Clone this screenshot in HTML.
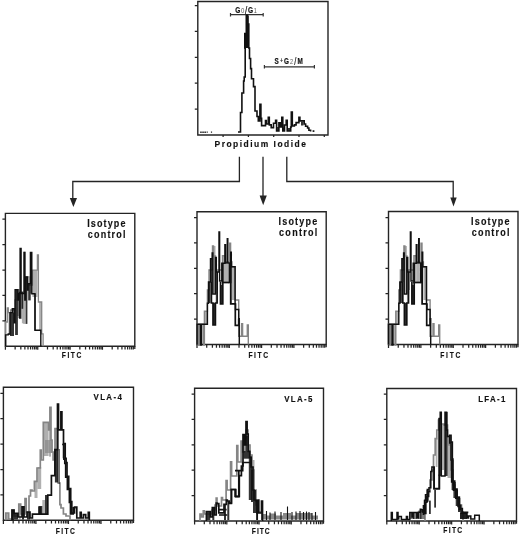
<!DOCTYPE html>
<html><head><meta charset="utf-8"><style>
html,body{margin:0;padding:0;background:#fff;}
svg{display:block;font-family:"Liberation Sans",Arial,sans-serif;}
</style></head><body>
<svg width="520" height="535" viewBox="0 0 520 535">
<rect width="520" height="535" fill="#fff"/>
<path d="M197.8,1.5H328.0V135.0H197.8Z" fill="none" stroke="#242424" stroke-width="1.4"/>
<path d="M194.8,109.1H197.8 M194.8,83.2H197.8 M194.8,57.3H197.8 M194.8,31.4H197.8 M194.8,5.5H197.8 M223.1,135.0v2 M248.4,135.0v2 M273.7,135.0v2 M299.0,135.0v2 M324.3,135.0v2" stroke="#242424" stroke-width="1.25" fill="none"/>
<path d="M5.4,213.4H134.8V346.2H5.4Z" fill="none" stroke="#242424" stroke-width="1.4"/>
<path d="M2.4000000000000004,320.8H5.4 M2.4000000000000004,295.4H5.4 M2.4000000000000004,270.0H5.4 M2.4000000000000004,244.6H5.4 M2.4000000000000004,219.2H5.4 M5.40,346.2v3.6 M15.14,346.2v3.3 M20.83,346.2v3.3 M24.88,346.2v3.3 M28.01,346.2v3.3 M30.57,346.2v3.3 M32.74,346.2v3.3 M34.61,346.2v3.3 M36.27,346.2v3.3 M37.75,346.2v3.6 M47.49,346.2v3.3 M53.18,346.2v3.3 M57.23,346.2v3.3 M60.36,346.2v3.3 M62.92,346.2v3.3 M65.09,346.2v3.3 M66.96,346.2v3.3 M68.62,346.2v3.3 M70.10,346.2v3.6 M79.84,346.2v3.3 M85.53,346.2v3.3 M89.58,346.2v3.3 M92.71,346.2v3.3 M95.27,346.2v3.3 M97.44,346.2v3.3 M99.31,346.2v3.3 M100.97,346.2v3.3 M102.45,346.2v3.6 M112.19,346.2v3.3 M117.88,346.2v3.3 M121.93,346.2v3.3 M125.06,346.2v3.3 M127.62,346.2v3.3 M129.79,346.2v3.3 M131.66,346.2v3.3 M133.32,346.2v3.3 M134.80,346.2v2.8" stroke="#242424" stroke-width="1.25" fill="none"/>
<path d="M197.0,211.7H326.2V344.5H197.0Z" fill="none" stroke="#242424" stroke-width="1.4"/>
<path d="M194.0,319.1H197.0 M194.0,293.7H197.0 M194.0,268.3H197.0 M194.0,242.9H197.0 M194.0,217.5H197.0 M197.00,344.5v3.6 M206.72,344.5v3.3 M212.41,344.5v3.3 M216.45,344.5v3.3 M219.58,344.5v3.3 M222.13,344.5v3.3 M224.30,344.5v3.3 M226.17,344.5v3.3 M227.82,344.5v3.3 M229.30,344.5v3.6 M239.02,344.5v3.3 M244.71,344.5v3.3 M248.75,344.5v3.3 M251.88,344.5v3.3 M254.43,344.5v3.3 M256.60,344.5v3.3 M258.47,344.5v3.3 M260.12,344.5v3.3 M261.60,344.5v3.6 M271.32,344.5v3.3 M277.01,344.5v3.3 M281.05,344.5v3.3 M284.18,344.5v3.3 M286.73,344.5v3.3 M288.90,344.5v3.3 M290.77,344.5v3.3 M292.42,344.5v3.3 M293.90,344.5v3.6 M303.62,344.5v3.3 M309.31,344.5v3.3 M313.35,344.5v3.3 M316.48,344.5v3.3 M319.03,344.5v3.3 M321.20,344.5v3.3 M323.07,344.5v3.3 M324.72,344.5v3.3 M326.20,344.5v2.8" stroke="#242424" stroke-width="1.25" fill="none"/>
<path d="M388.5,211.5H518.0V344.5H388.5Z" fill="none" stroke="#242424" stroke-width="1.4"/>
<path d="M385.5,319.1H388.5 M385.5,293.7H388.5 M385.5,268.3H388.5 M385.5,242.9H388.5 M385.5,217.5H388.5 M388.50,344.5v3.6 M398.25,344.5v3.3 M403.95,344.5v3.3 M407.99,344.5v3.3 M411.13,344.5v3.3 M413.69,344.5v3.3 M415.86,344.5v3.3 M417.74,344.5v3.3 M419.39,344.5v3.3 M420.88,344.5v3.6 M430.62,344.5v3.3 M436.32,344.5v3.3 M440.37,344.5v3.3 M443.50,344.5v3.3 M446.07,344.5v3.3 M448.24,344.5v3.3 M450.11,344.5v3.3 M451.77,344.5v3.3 M453.25,344.5v3.6 M463.00,344.5v3.3 M468.70,344.5v3.3 M472.74,344.5v3.3 M475.88,344.5v3.3 M478.44,344.5v3.3 M480.61,344.5v3.3 M482.49,344.5v3.3 M484.14,344.5v3.3 M485.62,344.5v3.6 M495.37,344.5v3.3 M501.07,344.5v3.3 M505.12,344.5v3.3 M508.25,344.5v3.3 M510.82,344.5v3.3 M512.99,344.5v3.3 M514.86,344.5v3.3 M516.52,344.5v3.3 M518.00,344.5v2.8" stroke="#242424" stroke-width="1.25" fill="none"/>
<path d="M3.4,387.3H133.5V520.3H3.4Z" fill="none" stroke="#242424" stroke-width="1.4"/>
<path d="M0.3999999999999999,494.9H3.4 M0.3999999999999999,469.5H3.4 M0.3999999999999999,444.1H3.4 M0.3999999999999999,418.7H3.4 M0.3999999999999999,393.3H3.4 M3.40,520.3v3.6 M13.19,520.3v3.3 M18.92,520.3v3.3 M22.98,520.3v3.3 M26.13,520.3v3.3 M28.71,520.3v3.3 M30.89,520.3v3.3 M32.77,520.3v3.3 M34.44,520.3v3.3 M35.92,520.3v3.6 M45.72,520.3v3.3 M51.44,520.3v3.3 M55.51,520.3v3.3 M58.66,520.3v3.3 M61.23,520.3v3.3 M63.41,520.3v3.3 M65.30,520.3v3.3 M66.96,520.3v3.3 M68.45,520.3v3.6 M78.24,520.3v3.3 M83.97,520.3v3.3 M88.03,520.3v3.3 M91.18,520.3v3.3 M93.76,520.3v3.3 M95.94,520.3v3.3 M97.82,520.3v3.3 M99.49,520.3v3.3 M100.97,520.3v3.6 M110.77,520.3v3.3 M116.49,520.3v3.3 M120.56,520.3v3.3 M123.71,520.3v3.3 M126.28,520.3v3.3 M128.46,520.3v3.3 M130.35,520.3v3.3 M132.01,520.3v3.3 M133.50,520.3v2.8" stroke="#242424" stroke-width="1.25" fill="none"/>
<path d="M194.6,388.2H323.5V521.0H194.6Z" fill="none" stroke="#242424" stroke-width="1.4"/>
<path d="M191.6,495.6H194.6 M191.6,470.2H194.6 M191.6,444.8H194.6 M191.6,419.4H194.6 M191.6,394.0H194.6 M194.60,521.0v3.6 M204.30,521.0v3.3 M209.98,521.0v3.3 M214.00,521.0v3.3 M217.12,521.0v3.3 M219.68,521.0v3.3 M221.83,521.0v3.3 M223.70,521.0v3.3 M225.35,521.0v3.3 M226.82,521.0v3.6 M236.53,521.0v3.3 M242.20,521.0v3.3 M246.23,521.0v3.3 M249.35,521.0v3.3 M251.90,521.0v3.3 M254.06,521.0v3.3 M255.93,521.0v3.3 M257.58,521.0v3.3 M259.05,521.0v3.6 M268.75,521.0v3.3 M274.43,521.0v3.3 M278.45,521.0v3.3 M281.57,521.0v3.3 M284.13,521.0v3.3 M286.28,521.0v3.3 M288.15,521.0v3.3 M289.80,521.0v3.3 M291.27,521.0v3.6 M300.98,521.0v3.3 M306.65,521.0v3.3 M310.68,521.0v3.3 M313.80,521.0v3.3 M316.35,521.0v3.3 M318.51,521.0v3.3 M320.38,521.0v3.3 M322.03,521.0v3.3 M323.50,521.0v2.8" stroke="#242424" stroke-width="1.25" fill="none"/>
<path d="M386.8,388.5H516.5V521.0H386.8Z" fill="none" stroke="#242424" stroke-width="1.4"/>
<path d="M383.8,495.6H386.8 M383.8,470.2H386.8 M383.8,444.8H386.8 M383.8,419.4H386.8 M383.8,394.0H386.8 M386.80,521.0v3.6 M396.56,521.0v3.3 M402.27,521.0v3.3 M406.32,521.0v3.3 M409.46,521.0v3.3 M412.03,521.0v3.3 M414.20,521.0v3.3 M416.08,521.0v3.3 M417.74,521.0v3.3 M419.23,521.0v3.6 M428.99,521.0v3.3 M434.70,521.0v3.3 M438.75,521.0v3.3 M441.89,521.0v3.3 M444.46,521.0v3.3 M446.63,521.0v3.3 M448.51,521.0v3.3 M450.17,521.0v3.3 M451.65,521.0v3.6 M461.41,521.0v3.3 M467.12,521.0v3.3 M471.17,521.0v3.3 M474.31,521.0v3.3 M476.88,521.0v3.3 M479.05,521.0v3.3 M480.93,521.0v3.3 M482.59,521.0v3.3 M484.07,521.0v3.6 M493.84,521.0v3.3 M499.55,521.0v3.3 M503.60,521.0v3.3 M506.74,521.0v3.3 M509.31,521.0v3.3 M511.48,521.0v3.3 M513.36,521.0v3.3 M515.02,521.0v3.3 M516.50,521.0v2.8" stroke="#242424" stroke-width="1.25" fill="none"/>
<text transform="translate(214.60,146.5) scale(0.88,1)" x="0" y="0" font-size="9.6" font-weight="bold" fill="#111" stroke="#111" stroke-width="0.15" textLength="103.75" lengthAdjust="spacing" >Propidium Iodide</text>
<text transform="translate(235.3,12.8) scale(0.8,1)" x="0" y="0" font-size="8.2" font-weight="bold" fill="#111" stroke="#111" stroke-width="0.2" textLength="27" lengthAdjust="spacing">G<tspan fill="#555" stroke="none" font-weight="normal" font-size="7.5">0</tspan><tspan font-weight="normal" font-size="10" dy="1">/</tspan><tspan dy="-1">G</tspan><tspan fill="#555" stroke="none" font-weight="normal" font-size="7">1</tspan></text>
<path d="M230.5,14.7H263.2M230.5,13v3.4M263.2,13v3.4" stroke="#333" stroke-width="1.2" fill="none"/>
<text transform="translate(274.6,63.9) scale(0.74,1)" x="0" y="0" font-size="8.6" font-weight="bold" fill="#111" stroke="#111" stroke-width="0.2" textLength="38" lengthAdjust="spacing">S<tspan font-weight="normal" font-size="7" dy="-1">+</tspan><tspan dy="1">G</tspan><tspan fill="#555" stroke="none" font-weight="normal" font-size="7.5">2</tspan><tspan font-weight="normal" font-size="10" dy="0.6">/</tspan><tspan dy="-0.6">M</tspan></text>
<path d="M264.4,66.9H314.4M264.4,65v3.6M314.4,65v3.6" stroke="#333" stroke-width="1.2" fill="none"/>
<path d="M239.4,156.8V181.5H72.8V199 M286.8,156.8V181.5H453.2V198 M263,156.8V196" stroke="#242424" stroke-width="1.3" fill="none"/>
<path d="M69.80000000000001,198L77.0,198L73.4,207Z" fill="#242424"/>
<path d="M259.59999999999997,195.5L266.8,195.5L263.2,205.2Z" fill="#242424"/>
<path d="M450.3,197.4L456.7,197.4L453.5,206.5Z" fill="#242424"/>
<text transform="translate(87.20,226.70000000000002) scale(0.9,1)" x="0" y="0" font-size="10" font-weight="bold" fill="#111" stroke="#111" stroke-width="0.15" textLength="42.56" lengthAdjust="spacing" >Isotype</text>
<text transform="translate(87.80,237.8) scale(0.9,1)" x="0" y="0" font-size="10" font-weight="bold" fill="#111" stroke="#111" stroke-width="0.15" textLength="41.89" lengthAdjust="spacing" >control</text>
<text transform="translate(278.50,224.8) scale(0.9,1)" x="0" y="0" font-size="10" font-weight="bold" fill="#111" stroke="#111" stroke-width="0.15" textLength="43.00" lengthAdjust="spacing" >Isotype</text>
<text transform="translate(279.10,235.9) scale(0.9,1)" x="0" y="0" font-size="10" font-weight="bold" fill="#111" stroke="#111" stroke-width="0.15" textLength="42.33" lengthAdjust="spacing" >control</text>
<text transform="translate(471.10,224.60000000000002) scale(0.9,1)" x="0" y="0" font-size="10" font-weight="bold" fill="#111" stroke="#111" stroke-width="0.15" textLength="42.67" lengthAdjust="spacing" >Isotype</text>
<text transform="translate(471.70,235.70000000000002) scale(0.9,1)" x="0" y="0" font-size="10" font-weight="bold" fill="#111" stroke="#111" stroke-width="0.15" textLength="42.00" lengthAdjust="spacing" >control</text>
<text transform="translate(61.80,358.40000000000003) scale(0.8,1)" x="0" y="0" font-size="8.4" font-weight="bold" fill="#111" stroke="#111" stroke-width="0.15" textLength="24.38" lengthAdjust="spacing" >FITC</text>
<text transform="translate(248.40,357.8) scale(0.8,1)" x="0" y="0" font-size="8.4" font-weight="bold" fill="#111" stroke="#111" stroke-width="0.15" textLength="24.75" lengthAdjust="spacing" >FITC</text>
<text transform="translate(440.30,357.6) scale(0.8,1)" x="0" y="0" font-size="8.4" font-weight="bold" fill="#111" stroke="#111" stroke-width="0.15" textLength="25.00" lengthAdjust="spacing" >FITC</text>
<text transform="translate(55.70,534.1999999999999) scale(0.8,1)" x="0" y="0" font-size="8.4" font-weight="bold" fill="#111" stroke="#111" stroke-width="0.15" textLength="24.00" lengthAdjust="spacing" >FITC</text>
<text transform="translate(251.80,533.6999999999999) scale(0.8,1)" x="0" y="0" font-size="8.4" font-weight="bold" fill="#111" stroke="#111" stroke-width="0.15" textLength="22.37" lengthAdjust="spacing" >FITC</text>
<text transform="translate(443.20,532.5) scale(0.8,1)" x="0" y="0" font-size="8.4" font-weight="bold" fill="#111" stroke="#111" stroke-width="0.15" textLength="23.75" lengthAdjust="spacing" >FITC</text>
<text transform="translate(93.50,400.0) scale(0.8,1)" x="0" y="0" font-size="9.9" font-weight="bold" fill="#111" stroke="#111" stroke-width="0.15" textLength="35.38" lengthAdjust="spacing" >VLA-4</text>
<text transform="translate(284.30,401.8) scale(0.8,1)" x="0" y="0" font-size="9.9" font-weight="bold" fill="#111" stroke="#111" stroke-width="0.15" textLength="35.00" lengthAdjust="spacing" >VLA-5</text>
<text transform="translate(478.20,402.1) scale(0.8,1)" x="0" y="0" font-size="9.9" font-weight="bold" fill="#111" stroke="#111" stroke-width="0.15" textLength="34.00" lengthAdjust="spacing" >LFA-1</text>
<path d="M238,132 L240.5,132 L240.5,112.5 L241.9,112.5 L241.9,93 L243.6,93 L243.6,81 L244.2,81 L244.2,77 L245.2,77 L245.2,48 L244.8,48 L244.8,33.6 L246.3,33.6 L246.3,15.4 L247.3,15.4 L247.3,24 L248.8,24 L248.8,48 L249.5,48 L249.5,58.5 L250.6,58.5 L250.6,68.6 L251.5,68.6 L251.5,78.7 L253.5,78.7 L253.5,86.6 L255,86.6 L255,111 L257,111 L257,116.5 L258.3,116.5 L258.3,121 L259.9,121 L259.9,104.4 L260.9,104.4 L260.9,118.2 L261.6,118.2 L261.6,125.6 L265.5,125.6 L265.5,120.5 L266.3,120.5 L266.3,124 L268.3,124 L268.3,117.2 L269.3,117.2 L269.3,124.9 L271.2,124.9 L271.2,127.6 L273.5,127.6 L273.5,123.2 L275.6,123.2 L275.6,120.2 L276.6,120.2 L276.6,131 L278.9,131 L278.9,122.9 L280.5,122.9 L280.5,127 L281.8,127 L281.8,117.2 L282.8,117.2 L282.8,131 L284.5,131 L284.5,125 L286.2,125 L286.2,120.2 L287.2,120.2 L287.2,131 L290.7,131 L290.7,127 L291.3,127 L291.3,112.1 L292.3,112.1 L292.3,126 L294.4,126 L294.4,124.9 L296.1,124.9 L296.1,122.6 L298.9,122.6 L298.9,117.2 L299.9,117.2 L299.9,120.9 L304.2,120.9 L304.2,124 L305.6,124 L305.6,126.3 L307.6,126.3 L307.6,128 L308.9,128 L308.9,130.3 L310.6,130.3 L310.6,131.5" fill="none" stroke="#111" stroke-width="1.6"/>
<rect x="244.8" y="33.6" width="4" height="14.4" fill="#111"/>
<rect x="246.3" y="15.4" width="2.5" height="20" fill="#111"/>
<path d="M277,127h2v4h-2z M283,127.5h1.5v3.5h-1.5z M288,128h2.5v3h-2.5z M301,121.5h2.5v4h-2.5z" fill="#111" fill-opacity="0.85"/>
<path d="M200.2,131.4h1.5v1.5h-1.5z M202.3,131.4h1.5v1.5h-1.5z M204.4,131.4h1.5v1.5h-1.5z M206.6,131.6h1.2v1.2h-1.2z M210.9,131.6h1.2v1.2h-1.2z" fill="#222"/>
<rect x="312.6" y="130.2" width="1.8" height="1.8" fill="#222"/>
<rect x="8.40" y="312.6" width="2.20" height="22.40" fill="#858585" fill-opacity="0.65"/>
<rect x="16.80" y="289.6" width="2.20" height="26.40" fill="#858585" fill-opacity="0.65"/>
<rect x="23.20" y="292" width="2.50" height="31.90" fill="#858585" fill-opacity="0.65"/>
<rect x="32.40" y="270.2" width="5.10" height="26.80" fill="#858585" fill-opacity="0.65"/>
<rect x="39.10" y="302" width="2.60" height="28.00" fill="#858585" fill-opacity="0.65"/>
<rect x="21.90" y="293" width="1.60" height="30.30" fill="#858585" fill-opacity="0.65"/>
<path d="M5.60,346.20 L5.60,322.00 L7.30,322.00 L7.30,308.00 L8.30,308.00 L8.30,312.60 L10.60,312.60 L10.60,310.00 L15.00,310.00 L15.00,300.00 L16.80,300.00 L16.80,289.60 L19.00,289.60 L19.00,292.00 L24.00,292.00 L24.00,252.50 L25.00,252.50 L25.00,276.90 L29.00,276.90 L29.00,285.00 L32.40,285.00 L32.40,270.20 L37.40,270.20 L37.40,255.00 L38.40,255.00 L38.40,302.00 L41.70,302.00 L41.70,333.90 L43.10,333.90 L43.10,346.20" fill="none" stroke="#858585" stroke-width="1.3" stroke-linejoin="miter"/>
<path d="M5.60,346.20 L5.60,334.90 L8.20,334.90 L8.20,334.00 L10.00,334.00 L10.00,312.60 L12.30,312.60 L12.30,308.70 L14.00,308.70 L14.00,322.70 L15.10,322.70 L15.10,289.60 L17.90,289.60 L17.90,300.00 L18.50,300.00 L18.50,293.50 L20.10,293.50 L20.10,248.40 L21.10,248.40 L21.10,293.50 L24.10,293.50 L24.10,252.50 L24.80,252.50 L24.80,300.00 L25.70,300.00 L25.70,276.90 L27.40,276.90 L27.40,290.00 L28.20,290.00 L28.20,283.60 L30.40,283.60 L30.40,252.50 L31.80,252.50 L31.80,293.70 L35.00,293.70 L35.00,330.30 L40.80,330.30 L40.80,346.20" fill="none" stroke="#111" stroke-width="1.4" stroke-linejoin="miter"/>
<path d="M35,293.7V330.6" stroke="#111" stroke-width="1.2"/>
<rect x="10.00" y="312.6" width="4.00" height="23.40" fill="#111" fill-opacity="0.85"/>
<rect x="15.10" y="289.6" width="2.80" height="45.40" fill="#111" fill-opacity="0.85"/>
<rect x="18.50" y="293" width="2.20" height="25.20" fill="#111" fill-opacity="0.85"/>
<rect x="19.00" y="292" width="2.50" height="26.80" fill="#111" fill-opacity="0.85"/>
<rect x="21.50" y="292" width="1.70" height="16.80" fill="#111" fill-opacity="0.85"/>
<rect x="25.70" y="276.9" width="1.70" height="47.00" fill="#111" fill-opacity="0.85"/>
<rect x="28.20" y="283.6" width="2.50" height="16.80" fill="#111" fill-opacity="0.85"/>
<rect x="30.40" y="252.5" width="1.20" height="41.20" fill="#111" fill-opacity="0.85"/>
<rect x="204.00" y="311" width="3.40" height="13.00" fill="#858585" fill-opacity="0.65"/>
<rect x="213.00" y="246" width="2.50" height="47.00" fill="#858585" fill-opacity="0.65"/>
<rect x="222.50" y="256" width="2.50" height="27.00" fill="#858585" fill-opacity="0.65"/>
<rect x="225.00" y="264" width="3.50" height="18.00" fill="#858585" fill-opacity="0.65"/>
<rect x="232.00" y="267" width="3.00" height="33.00" fill="#858585" fill-opacity="0.65"/>
<rect x="215.50" y="293" width="1.50" height="10.00" fill="#858585" fill-opacity="0.65"/>
<path d="M197.10,344.50 L197.10,324.30 L198.50,324.30 L198.50,345.00 L199.30,345.00 L199.30,324.30 L203.60,324.30 L203.60,345.00 L204.40,345.00 L204.40,311.20 L207.40,311.20 L207.40,290.00 L209.00,290.00 L209.00,270.00 L212.50,270.00 L212.50,246.00 L213.50,246.00 L213.50,256.00 L215.50,256.00 L215.50,293.00 L217.00,293.00 L217.00,270.00 L222.50,270.00 L222.50,255.80 L225.00,255.80 L225.00,262.00 L229.60,262.00 L229.60,243.10 L230.60,243.10 L230.60,262.00 L232.00,262.00 L232.00,266.80 L235.00,266.80 L235.00,300.00 L238.70,300.00 L238.70,336.30 L241.60,336.30 L241.60,323.70 L242.60,323.70 L242.60,336.30 L247.30,336.30 L247.30,324.90 L248.30,324.90 L248.30,344.50" fill="none" stroke="#858585" stroke-width="1.4" stroke-linejoin="miter"/>
<path d="M197.10,344.50 L197.10,324.30 L200.60,324.30 L200.60,345.00 L201.60,345.00 L201.60,324.30 L207.40,324.30 L207.40,303.20 L208.50,303.20 L208.50,282.00 L210.50,282.00 L210.50,258.70 L212.20,258.70 L212.20,252.90 L212.80,252.90 L212.80,294.00 L215.40,294.00 L215.40,257.50 L216.30,257.50 L216.30,272.00 L219.00,272.00 L219.00,232.00 L219.60,232.00 L219.60,281.00 L221.80,281.00 L221.80,263.30 L224.90,263.30 L224.90,244.80 L225.50,244.80 L225.50,263.00 L227.30,263.00 L227.30,238.70 L227.80,238.70 L227.80,263.00 L229.30,263.00 L229.30,282.50 L230.70,282.50 L230.70,252.30 L231.30,252.30 L231.30,266.80 L235.10,266.80 L235.10,303.80 L235.50,303.80 L235.50,309.50 L238.70,309.50 L238.70,318.60 L239.30,318.60 L239.30,344.50" fill="none" stroke="#111" stroke-width="1.45" stroke-linejoin="miter"/>
<rect x="208.20" y="282" width="2.30" height="21.00" fill="#111" fill-opacity="0.85"/>
<rect x="213.00" y="303" width="2.40" height="22.00" fill="#111" fill-opacity="0.85"/>
<rect x="210.50" y="258.7" width="2.00" height="23.30" fill="#111" fill-opacity="0.85"/>
<rect x="217.00" y="272" width="1.00" height="18.00" fill="#111" fill-opacity="0.85"/>
<rect x="220.50" y="285" width="2.30" height="19.00" fill="#111" fill-opacity="0.85"/>
<rect x="230.70" y="252" width="0.80" height="52.00" fill="#111" fill-opacity="0.85"/>
<path d="M211.4,282V303H213V325H215.4V303H217.1V272" transform="translate(0,0)" fill="none" stroke="#111" stroke-width="1.7"/>
<path d="M221.8,282.5H229.3" transform="translate(0,0)" fill="none" stroke="#111" stroke-width="1.7"/>
<path d="M235.3,303.8V325.4H238.7V318.6" transform="translate(0,0)" fill="none" stroke="#111" stroke-width="1.7"/>
<path d="M220.5,282V303.8H222.8V263" transform="translate(0,0)" fill="none" stroke="#111" stroke-width="1.7"/>
<path d="M230.7,266V303.8H235.3" transform="translate(0,0)" fill="none" stroke="#111" stroke-width="1.7"/>
<rect x="395.40" y="311" width="3.40" height="13.00" fill="#858585" fill-opacity="0.65"/>
<rect x="404.40" y="246" width="2.50" height="47.00" fill="#858585" fill-opacity="0.65"/>
<rect x="413.90" y="256" width="2.50" height="27.00" fill="#858585" fill-opacity="0.65"/>
<rect x="416.40" y="264" width="3.50" height="18.00" fill="#858585" fill-opacity="0.65"/>
<rect x="423.40" y="267" width="3.00" height="33.00" fill="#858585" fill-opacity="0.65"/>
<rect x="406.90" y="293" width="1.50" height="10.00" fill="#858585" fill-opacity="0.65"/>
<path d="M388.50,344.50 L388.50,324.30 L389.90,324.30 L389.90,345.00 L390.70,345.00 L390.70,324.30 L395.00,324.30 L395.00,345.00 L395.80,345.00 L395.80,311.20 L398.80,311.20 L398.80,290.00 L400.40,290.00 L400.40,270.00 L403.90,270.00 L403.90,246.00 L404.90,246.00 L404.90,256.00 L406.90,256.00 L406.90,293.00 L408.40,293.00 L408.40,270.00 L413.90,270.00 L413.90,255.80 L416.40,255.80 L416.40,262.00 L421.00,262.00 L421.00,243.10 L422.00,243.10 L422.00,262.00 L423.40,262.00 L423.40,266.80 L426.40,266.80 L426.40,300.00 L430.10,300.00 L430.10,336.30 L433.00,336.30 L433.00,323.70 L434.00,323.70 L434.00,336.30 L438.70,336.30 L438.70,324.90 L439.70,324.90 L439.70,344.50" fill="none" stroke="#858585" stroke-width="1.4" stroke-linejoin="miter"/>
<path d="M388.50,344.50 L388.50,324.30 L392.00,324.30 L392.00,345.00 L393.00,345.00 L393.00,324.30 L398.80,324.30 L398.80,303.20 L399.90,303.20 L399.90,282.00 L401.90,282.00 L401.90,258.70 L403.60,258.70 L403.60,252.90 L404.20,252.90 L404.20,294.00 L406.80,294.00 L406.80,257.50 L407.70,257.50 L407.70,272.00 L410.40,272.00 L410.40,232.00 L411.00,232.00 L411.00,281.00 L413.20,281.00 L413.20,263.30 L416.30,263.30 L416.30,244.80 L416.90,244.80 L416.90,263.00 L418.70,263.00 L418.70,238.70 L419.20,238.70 L419.20,263.00 L420.70,263.00 L420.70,282.50 L422.10,282.50 L422.10,252.30 L422.70,252.30 L422.70,266.80 L426.50,266.80 L426.50,303.80 L426.90,303.80 L426.90,309.50 L430.10,309.50 L430.10,318.60 L430.70,318.60 L430.70,344.50" fill="none" stroke="#111" stroke-width="1.45" stroke-linejoin="miter"/>
<rect x="399.60" y="282" width="2.30" height="21.00" fill="#111" fill-opacity="0.85"/>
<rect x="404.40" y="303" width="2.40" height="22.00" fill="#111" fill-opacity="0.85"/>
<rect x="401.90" y="258.7" width="2.00" height="23.30" fill="#111" fill-opacity="0.85"/>
<rect x="408.40" y="272" width="1.00" height="18.00" fill="#111" fill-opacity="0.85"/>
<rect x="411.90" y="285" width="2.30" height="19.00" fill="#111" fill-opacity="0.85"/>
<rect x="422.10" y="252" width="0.80" height="52.00" fill="#111" fill-opacity="0.85"/>
<path d="M211.4,282V303H213V325H215.4V303H217.1V272" transform="translate(191.4,0)" fill="none" stroke="#111" stroke-width="1.7"/>
<path d="M221.8,282.5H229.3" transform="translate(191.4,0)" fill="none" stroke="#111" stroke-width="1.7"/>
<path d="M235.3,303.8V325.4H238.7V318.6" transform="translate(191.4,0)" fill="none" stroke="#111" stroke-width="1.7"/>
<path d="M220.5,282V303.8H222.8V263" transform="translate(191.4,0)" fill="none" stroke="#111" stroke-width="1.7"/>
<path d="M230.7,266V303.8H235.3" transform="translate(191.4,0)" fill="none" stroke="#111" stroke-width="1.7"/>
<rect x="5.80" y="513" width="2.90" height="7.00" fill="#858585" fill-opacity="0.65"/>
<rect x="18.80" y="504" width="1.90" height="15.50" fill="#858585" fill-opacity="0.65"/>
<rect x="42.30" y="500" width="2.70" height="14.00" fill="#858585" fill-opacity="0.65"/>
<rect x="34.50" y="482" width="3.00" height="16.00" fill="#858585" fill-opacity="0.65"/>
<rect x="37.50" y="467" width="3.70" height="22.00" fill="#858585" fill-opacity="0.65"/>
<rect x="43.30" y="422" width="5.30" height="34.00" fill="#858585" fill-opacity="0.65"/>
<rect x="45.00" y="440" width="7.50" height="13.00" fill="#858585" fill-opacity="0.65"/>
<rect x="49.00" y="407" width="2.00" height="49.60" fill="#858585" fill-opacity="0.65"/>
<rect x="54.90" y="429" width="3.40" height="20.70" fill="#858585" fill-opacity="0.65"/>
<path d="M5.80,520.30 L5.80,513.00 L8.70,513.00 L8.70,519.00 L12.00,519.00 L12.00,510.00 L14.00,510.00 L14.00,516.00 L18.80,516.00 L18.80,504.00 L20.70,504.00 L20.70,514.00 L25.00,514.00 L25.00,498.60 L26.20,498.60 L26.20,512.00 L29.00,512.00 L29.00,496.00 L30.50,496.00 L30.50,490.00 L32.00,490.00 L32.00,491.00 L34.40,491.00 L34.40,481.40 L37.00,481.40 L37.00,468.00 L38.30,468.00 L38.30,468.00 L40.30,468.00 L40.30,450.20 L41.20,450.20 L41.20,460.00 L43.30,460.00 L43.30,422.40 L48.60,422.40 L48.60,430.00 L50.00,430.00 L50.00,407.30 L51.00,407.30 L51.00,440.00 L52.00,440.00 L52.00,452.00 L53.10,452.00 L53.10,460.00 L55.00,460.00 L55.00,428.70 L58.00,428.70 L58.00,483.00 L59.90,483.00 L59.90,504.60 L61.00,504.60 L61.00,508.00 L63.40,508.00 L63.40,514.00 L66.00,514.00 L66.00,516.00 L70.00,516.00 L70.00,520.30" fill="none" stroke="#858585" stroke-width="1.7" stroke-linejoin="miter"/>
<path d="M12.00,520.30 L12.00,510.00 L14.00,510.00 L14.00,513.40 L18.00,513.40 L18.00,517.00 L22.00,517.00 L22.00,506.90 L24.00,506.90 L24.00,517.00 L27.00,517.00 L27.00,512.00 L30.00,512.00 L30.00,518.00 L32.40,518.00 L32.40,514.10 L47.80,514.10 L47.80,495.10 L51.40,495.10 L51.40,475.60 L54.90,475.60 L54.90,449.70 L57.50,449.70 L57.50,404.00 L58.50,404.00 L58.50,429.90 L60.90,429.90 L60.90,411.80 L61.90,411.80 L61.90,429.90 L63.50,429.90 L63.50,443.70 L65.20,443.70 L65.20,458.30 L66.10,458.30 L66.10,462.70 L67.00,462.70 L67.00,476.40 L68.70,476.40 L68.70,488.60 L70.70,488.60 L70.70,501.50 L71.80,501.50 L71.80,513.00 L74.50,513.00 L74.50,507.00 L76.80,507.00 L76.80,518.00 L80.20,518.00 L80.20,512.30 L81.20,512.30 L81.20,518.00 L83.40,518.00 L83.40,514.60 L85.70,514.60 L85.70,518.00 L88.30,518.00 L88.30,512.30 L89.30,512.30 L89.30,520.30" fill="none" stroke="#111" stroke-width="1.7" stroke-linejoin="miter"/>
<rect x="12.00" y="510" width="2.00" height="10.00" fill="#111" fill-opacity="0.85"/>
<rect x="14.00" y="513" width="4.00" height="6.50" fill="#111" fill-opacity="0.85"/>
<rect x="22.00" y="506" width="2.00" height="13.50" fill="#111" fill-opacity="0.85"/>
<rect x="27.00" y="512" width="3.00" height="7.50" fill="#111" fill-opacity="0.85"/>
<rect x="38.50" y="506" width="3.80" height="8.00" fill="#111" fill-opacity="0.85"/>
<rect x="45.00" y="495" width="3.00" height="19.00" fill="#111" fill-opacity="0.85"/>
<rect x="54.90" y="449.7" width="3.10" height="32.80" fill="#111" fill-opacity="0.85"/>
<rect x="58.70" y="449" width="1.00" height="35.00" fill="#111" fill-opacity="0.85"/>
<rect x="62.70" y="443.7" width="1.70" height="14.60" fill="#111" fill-opacity="0.85"/>
<rect x="38.20" y="506.6" width="3.00" height="7.40" fill="#111" fill-opacity="0.85"/>
<path d="M62.20,444.50 L63.90,444.50 L63.90,459.10 L64.80,459.10 L64.80,463.50 L65.70,463.50 L65.70,477.20 L67.40,477.20 L67.40,489.40 L69.40,489.40 L69.40,502.30 L70.50,502.30 L70.50,513.80 L73.20,513.80 L73.20,507.80 L75.50,507.80" fill="none" stroke="#111" stroke-width="1.7"/>
<rect x="252.00" y="460" width="2.50" height="40.00" fill="#858585" fill-opacity="0.65"/>
<path d="M200.00,521.00 L200.00,514.00 L201.50,514.00 L201.50,517.00 L203.30,517.00 L203.30,510.80 L204.30,510.80 L204.30,514.00 L212.00,514.00 L212.00,510.00 L215.00,510.00 L215.00,505.00 L216.20,505.00 L216.20,498.20 L217.00,498.20 L217.00,506.00 L221.50,506.00 L221.50,497.50 L222.50,497.50 L222.50,500.00 L226.10,500.00 L226.10,480.60 L227.10,480.60 L227.10,490.00 L230.60,490.00 L230.60,461.80 L231.60,461.80 L231.60,476.00 L236.80,476.00 L236.80,445.60 L237.80,445.60 L237.80,462.00 L241.10,462.00 L241.10,441.00 L242.10,441.00 L242.10,452.00 L244.00,452.00 L244.00,438.00 L246.00,438.00 L246.00,430.00 L248.00,430.00 L248.00,445.00 L250.00,445.00 L250.00,455.00 L252.00,455.00 L252.00,470.00 L254.00,470.00 L254.00,490.00 L256.00,490.00 L256.00,505.00 L258.00,505.00 L258.00,512.00 L262.00,512.00 L262.00,521.00" fill="none" stroke="#858585" stroke-width="1.7" stroke-linejoin="miter"/>
<path d="M206.40,521.00 L206.40,511.50 L210.30,511.50 L210.30,517.00 L212.30,517.00 L212.30,507.60 L214.30,507.60 L214.30,515.00 L216.20,515.00 L216.20,503.00 L217.00,503.00 L217.00,503.60 L218.80,503.60 L218.80,512.80 L224.00,512.80 L224.00,504.30 L226.30,504.30 L226.30,500.00 L227.30,500.00 L227.30,501.00 L229.30,501.00 L229.30,503.40 L231.40,503.40 L231.40,489.50 L235.10,489.50 L235.10,496.40 L239.30,496.40 L239.30,475.70 L241.40,475.70 L241.40,466.00 L243.00,466.00 L243.00,434.60 L244.60,434.60 L244.60,445.00 L246.00,445.00 L246.00,421.70 L247.10,421.70 L247.10,434.00 L248.20,434.00 L248.20,451.40 L249.70,451.40 L249.70,457.00 L251.00,457.00 L251.00,467.00 L253.00,467.00 L253.00,490.00 L254.00,490.00 L254.00,500.00 L256.00,500.00 L256.00,500.60 L257.00,500.60 L257.00,513.00 L258.00,513.00 L258.00,500.00 L258.80,500.00 L258.80,513.00 L261.50,513.00 L261.50,501.00 L262.50,501.00 L262.50,521.00" fill="none" stroke="#111" stroke-width="1.7" stroke-linejoin="miter"/>
<rect x="206.40" y="511.5" width="3.90" height="8.50" fill="#111" fill-opacity="0.85"/>
<rect x="212.30" y="507.6" width="2.00" height="12.40" fill="#111" fill-opacity="0.85"/>
<rect x="224.00" y="504" width="2.00" height="16.00" fill="#111" fill-opacity="0.85"/>
<rect x="227.30" y="501" width="2.00" height="19.00" fill="#111" fill-opacity="0.85"/>
<rect x="245.30" y="436" width="2.50" height="15.00" fill="#111" fill-opacity="0.85"/>
<rect x="243.40" y="451" width="6.90" height="7.70" fill="#111" fill-opacity="0.85"/>
<rect x="248.80" y="457" width="3.20" height="43.00" fill="#111" fill-opacity="0.85"/>
<rect x="251.00" y="470" width="2.00" height="32.00" fill="#111" fill-opacity="0.85"/>
<rect x="253.00" y="490" width="3.00" height="23.00" fill="#111" fill-opacity="0.85"/>
<rect x="256.00" y="500" width="2.00" height="20.00" fill="#111" fill-opacity="0.85"/>
<path d="M262,514h4v5.5h-4z M266,515.5h52v4h-52z M270,513.5h6v2h-6z M283,513h8v2.5h-8z M296,513h16v2.5h-16z" fill="#111" fill-opacity="0.5"/>
<path d="M257.5,500V520 M262,501V520 M266.5,511V520 M270,512.5V520 M275,511.5V520 M281,512V520 M287.5,506.5V520 M292,512V520 M296,511.5V520 M300,511V520 M303.5,512V520 M306.5,511.5V520 M309,512V520 M312,513V520 M315.5,512V520" stroke="#111" stroke-width="1.1"/>
<path d="M228,503H231.4V489.5H235.8V496.7H238.8V470.6H242.7V462.5H250 M219,509.7H226.6 M219,515H227.3 M235,470.6H238.8" fill="none" stroke="#111" stroke-width="1.7"/>
<rect x="441.80" y="424" width="2.20" height="46.00" fill="#858585" fill-opacity="0.65"/>
<rect x="435.70" y="438.6" width="1.80" height="28.40" fill="#858585" fill-opacity="0.65"/>
<rect x="447.50" y="436.4" width="4.00" height="41.60" fill="#858585" fill-opacity="0.65"/>
<path d="M425.00,521.00 L425.00,500.00 L428.00,500.00 L428.00,492.00 L430.00,492.00 L430.00,480.00 L432.00,480.00 L432.00,470.00 L433.50,470.00 L433.50,455.00 L435.20,455.00 L435.20,438.60 L436.80,438.60 L436.80,430.00 L438.50,430.00 L438.50,420.00 L441.00,420.00 L441.00,424.00 L444.00,424.00 L444.00,425.00 L447.50,425.00 L447.50,436.40 L449.10,436.40 L449.10,445.00 L451.00,445.00 L451.00,470.00 L453.00,470.00 L453.00,485.00 L455.00,485.00 L455.00,490.00 L457.00,490.00 L457.00,497.00 L459.30,497.00 L459.30,505.00 L461.50,505.00 L461.50,512.00 L463.00,512.00 L463.00,521.00" fill="none" stroke="#858585" stroke-width="1.7" stroke-linejoin="miter"/>
<path d="M391.30,521.00 L391.30,512.50 L392.30,512.50 L392.30,519.50 L397.00,519.50 L397.00,512.50 L398.00,512.50 L398.00,519.00 L398.70,519.00 L398.70,516.40 L401.40,516.40 L401.40,519.50 L406.40,519.50 L406.40,516.40 L407.50,516.40 L407.50,519.50 L409.80,519.50 L409.80,512.50 L412.00,512.50 L412.00,517.00 L413.00,517.00 L413.00,512.50 L416.80,512.50 L416.80,518.00 L418.30,518.00 L418.30,512.20 L420.30,512.20 L420.30,509.30 L421.00,509.30 L421.00,509.80 L422.60,509.80 L422.60,512.00 L424.50,512.00 L424.50,500.60 L425.50,500.60 L425.50,494.80 L427.30,494.80 L427.30,489.60 L429.00,489.60 L429.00,487.80 L430.80,487.80 L430.80,471.60 L431.90,471.60 L431.90,467.00 L434.20,467.00 L434.20,488.70 L439.20,488.70 L439.20,418.40 L440.20,418.40 L440.20,412.30 L441.30,412.30 L441.30,476.00 L445.00,476.00 L445.00,412.30 L446.60,412.30 L446.60,430.00 L447.50,430.00 L447.50,436.40 L449.70,436.40 L449.70,443.10 L451.00,443.10 L451.00,460.00 L451.60,460.00 L451.60,482.00 L453.40,482.00 L453.40,490.20 L455.70,490.20 L455.70,498.30 L458.00,498.30 L458.00,506.40 L459.30,506.40 L459.30,509.50 L461.00,509.50 L461.00,513.30 L467.00,513.30 L467.00,518.00 L468.50,518.00 L468.50,516.00 L470.80,516.00 L470.80,519.00 L474.70,519.00 L474.70,515.20 L479.30,515.20 L479.30,521.00" fill="none" stroke="#111" stroke-width="1.5" stroke-linejoin="miter"/>
<rect x="438.50" y="418" width="3.00" height="58.00" fill="#111" fill-opacity="0.85"/>
<rect x="445.00" y="412" width="2.60" height="64.00" fill="#111" fill-opacity="0.85"/>
<rect x="451.60" y="460" width="1.80" height="30.00" fill="#111" fill-opacity="0.85"/>
<rect x="453.40" y="482" width="2.30" height="16.00" fill="#111" fill-opacity="0.85"/>
<rect x="455.70" y="490" width="2.30" height="16.00" fill="#111" fill-opacity="0.85"/>
<rect x="458.00" y="498" width="2.30" height="14.00" fill="#111" fill-opacity="0.85"/>
<rect x="460.00" y="513" width="7.00" height="6.00" fill="#111" fill-opacity="0.85"/>
<rect x="413.00" y="512.5" width="1.20" height="6.50" fill="#111" fill-opacity="0.85"/>
<rect x="420.20" y="509.5" width="1.20" height="9.50" fill="#111" fill-opacity="0.85"/>
<rect x="434.20" y="490" width="1.80" height="17.60" fill="#111" fill-opacity="0.85"/>
<rect x="429.00" y="500.6" width="1.80" height="13.40" fill="#111" fill-opacity="0.85"/>
<path d="M409.8,513h7v6h-7z M418.3,510.5h6.2v8.5h-6.2z M460,513.5h7v5.5h-7z" fill="#111" fill-opacity="0.55"/>
<path d="M434,467V488.7H439.4V474.4 M427.5,490V502 M423.5,505V515" fill="none" stroke="#111" stroke-width="1.7"/>
<path d="M421.60,510.80 L422.30,510.80 L422.30,511.30 L423.90,511.30 L423.90,513.50 L425.80,513.50 L425.80,502.10 L426.80,502.10 L426.80,496.30 L428.60,496.30 L428.60,491.10 L430.30,491.10" fill="none" stroke="#111" stroke-width="1.7"/>
<path d="M448.80,435.40 L451.00,435.40 L451.00,442.10 L452.30,442.10 L452.30,459.00 L452.90,459.00 L452.90,481.00 L454.70,481.00 L454.70,489.20 L457.00,489.20 L457.00,497.30 L459.30,497.30 L459.30,505.40 L460.60,505.40 L460.60,508.50 L462.30,508.50 L462.30,512.30 L468.30,512.30" fill="none" stroke="#111" stroke-width="1.7"/>
</svg>
</body></html>
